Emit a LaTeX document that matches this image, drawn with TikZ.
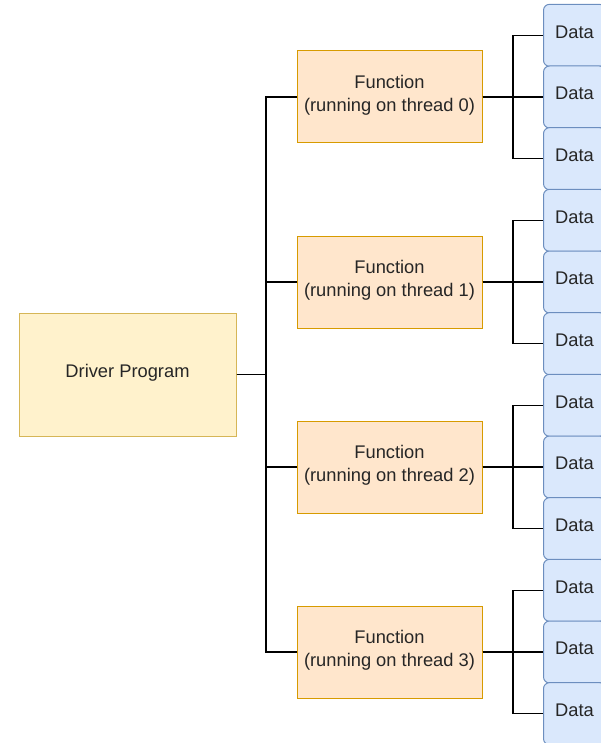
\documentclass[tikz,border=0pt]{standalone}
\usepackage{fontspec}
\setmainfont{Liberation Sans}
\definecolor{drvfill}{HTML}{FFF2CC}
\definecolor{drvline}{HTML}{D6B656}
\definecolor{fnfill}{HTML}{FFE6CC}
\definecolor{fnline}{HTML}{D79B00}
\definecolor{dtfill}{HTML}{DAE8FC}
\definecolor{dtline}{HTML}{6C8EBF}
\definecolor{ink}{HTML}{262626}
\begin{document}
\begin{tikzpicture}[x=1pt,y=-1pt,
  box/.style={draw, line width=1pt, inner sep=0pt, align=center, text=ink,
    text depth=7pt, font=\fontsize{18.3}{22.4}\selectfont},
  driver/.style={box, fill=drvfill, draw=drvline, minimum width=217pt, minimum height=123pt},
  func/.style={box, fill=fnfill, draw=fnline, minimum width=185pt, minimum height=92pt},
  datum/.style={box, fill=dtfill, draw=dtline, rounded corners=6pt,
    minimum width=62pt, minimum height=62pt},
  wire/.style={line width=1.3pt, draw=black}]
\useasboundingbox (0,0) rectangle (601,743);
\clip (0,0) rectangle (601,743);

% driver and its bus
\node[driver] (drv) at (127.5,374.5) {Driver Program};
\coordinate (bus) at (266,374.5);

\foreach \i/\fy in {0/97,1/282,2/467,3/652}{
  \node[func] (f\i) at (389.5,\fy) {Function\\(running on thread \i)};
  \draw[wire] (drv.east) -- (bus) |- (f\i.west);
  \coordinate (b\i) at (513,\fy);
  \foreach \k/\dy in {0/-61.67,1/0,2/61.67}{
    \draw[wire] (f\i.east) -- (b\i) |- (543,\fy+\dy) coordinate (t\i\k);
  }
}
% data blocks drawn on top of the wires
\foreach \i/\fy in {0/97,1/282,2/467,3/652}{
  \foreach \k/\dy in {0/-61.67,1/0,2/61.67}{
    \node[datum, anchor=west] (d\i\k) at (t\i\k) {Data};
  }
}
\end{tikzpicture}
\end{document}
